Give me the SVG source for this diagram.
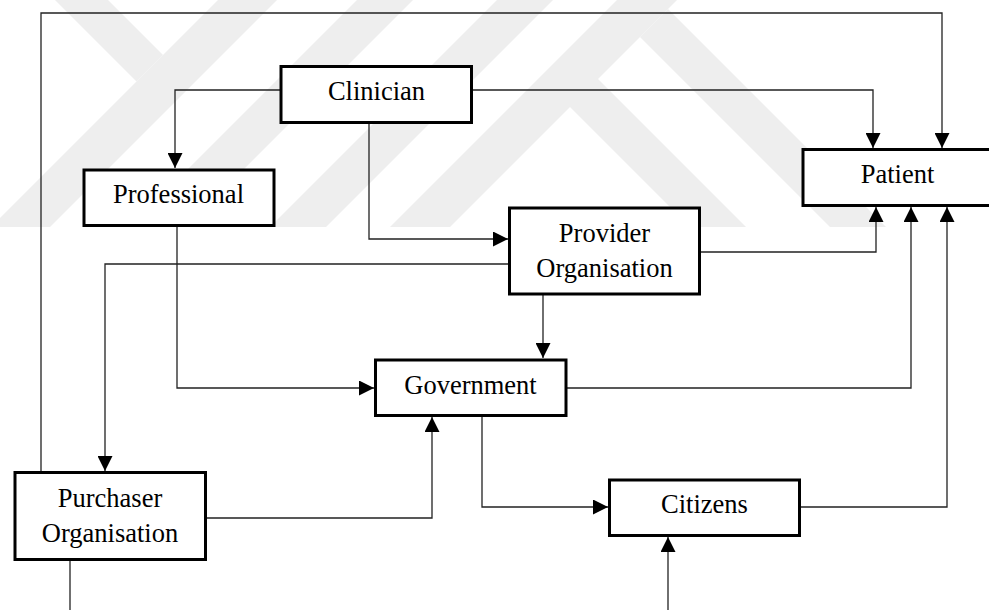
<svg xmlns="http://www.w3.org/2000/svg" width="989" height="610" viewBox="0 0 989 610">
  <defs>
    <marker id="arr" markerUnits="userSpaceOnUse" markerWidth="15" markerHeight="15" refX="15" refY="7.5" orient="auto">
      <path d="M0,0 L15,7.5 L0,15 z" fill="#000"/>
    </marker>
    <clipPath id="wmclip"><rect x="0" y="0" width="989" height="227"/></clipPath>
  </defs>
  <style>
    .box { fill: #fff; stroke: #000; stroke-width: 3; }
    .lbl { font-family: "Liberation Serif", "Times New Roman", serif; font-size: 26.5px; fill: #000; text-anchor: middle; }
    .con { fill: none; stroke: #222; stroke-width: 1.3; }
    .wm { fill: #eeeeee; }
  </style>
  <rect x="0" y="0" width="989" height="610" fill="#fff"/>
  <g id="watermark" clip-path="url(#wmclip)">
    <polygon class="wm" points="55,0 108,0 163,55 136.5,81.5"/>
    <polygon class="wm" points="218,0 277,0 50,227 -9,227"/>
    <polygon class="wm" points="357,0 413,0 186,227 130,227"/>
    <polygon class="wm" points="497,0 553,0 326,227 270,227"/>
    <polygon class="wm" points="617,0 677,0 450,227 390,227"/>
    <polygon class="wm" points="640,37 830,227 886,227 668,9"/>
    <polygon class="wm" points="568,49 746,227 690,227 568,105"/>
  </g>
  <g id="connectors">
    <path class="con" d="M41,471 V13 H942 V148" marker-end="url(#arr)"/>
    <path class="con" d="M280,90 H175 V168" marker-end="url(#arr)"/>
    <path class="con" d="M473,90 H873 V148" marker-end="url(#arr)"/>
    <path class="con" d="M369,124 V239 H508" marker-end="url(#arr)"/>
    <path class="con" d="M508,264 H105 V471" marker-end="url(#arr)"/>
    <path class="con" d="M177,227 V388 H374" marker-end="url(#arr)"/>
    <path class="con" d="M543,295 V358" marker-end="url(#arr)"/>
    <path class="con" d="M701,252 H876 V207" marker-end="url(#arr)"/>
    <path class="con" d="M567,388 H911 V207" marker-end="url(#arr)"/>
    <path class="con" d="M482,417 V507 H608" marker-end="url(#arr)"/>
    <path class="con" d="M801,507 H947 V207" marker-end="url(#arr)"/>
    <path class="con" d="M207,518 H432 V417" marker-end="url(#arr)"/>
    <path class="con" d="M70,561 V610"/>
    <path class="con" d="M668,610 V537" marker-end="url(#arr)"/>
  </g>
  <g id="clinician">
    <rect class="box" x="281" y="66.5" width="190.5" height="56"/>
    <text class="lbl" x="376.5" y="100">Clinician</text>
  </g>
  <g id="professional">
    <rect class="box" x="84" y="170" width="190" height="55.5"/>
    <text class="lbl" x="178.5" y="203">Professional</text>
  </g>
  <g id="patient">
    <rect class="box" x="803" y="149.5" width="190" height="56"/>
    <text class="lbl" x="897.5" y="183">Patient</text>
  </g>
  <g id="provider">
    <rect class="box" x="509.5" y="208" width="190" height="86"/>
    <text class="lbl" x="604.5" y="242">Provider</text>
    <text class="lbl" x="604.5" y="277">Organisation</text>
  </g>
  <g id="government">
    <rect class="box" x="375.5" y="360" width="190.5" height="55.5"/>
    <text class="lbl" x="470.5" y="394">Government</text>
  </g>
  <g id="purchaser">
    <rect class="box" x="15" y="472.5" width="190.5" height="87"/>
    <text class="lbl" x="110" y="507">Purchaser</text>
    <text class="lbl" x="110" y="542">Organisation</text>
  </g>
  <g id="citizens">
    <rect class="box" x="609.5" y="480" width="190" height="55.5"/>
    <text class="lbl" x="704.5" y="513">Citizens</text>
  </g>
</svg>
